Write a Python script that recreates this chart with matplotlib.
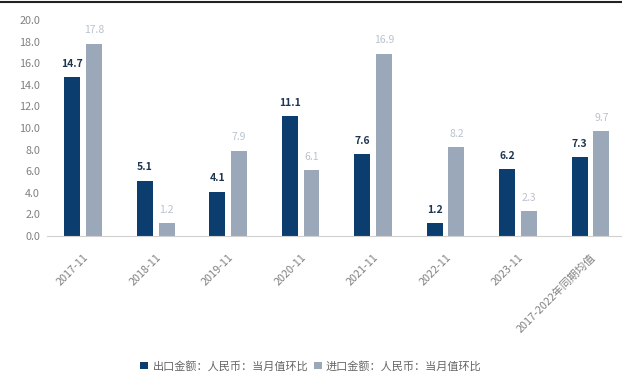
import matplotlib.pyplot as plt
import numpy as np
from matplotlib.lines import Line2D

plt.rcParams['font.family'] = ['Noto Sans CJK SC', 'DejaVu Sans']

categories = ['2017-11', '2018-11', '2019-11', '2020-11', '2021-11',
              '2022-11', '2023-11', '2017-2022年同期均值']
export_mom = [14.7, 5.1, 4.1, 11.1, 7.6, 1.2, 6.2, 7.3]
import_mom = [17.8, 1.2, 7.9, 6.1, 16.9, 8.2, 2.3, 9.7]
series_names = ['出口金额：人民币：当月值环比', '进口金额：人民币：当月值环比']

dark = '#0b3d6f'
light = '#9aa8b9'

fig = plt.figure(figsize=(6.22, 3.72), dpi=100)
ax = fig.add_axes([0.0756, 0.366, 0.932, 0.580])

x = np.arange(len(categories))
w = 0.22
b1 = ax.bar(x - 0.15, export_mom, w, color=dark, label=series_names[0])
b2 = ax.bar(x + 0.15, import_mom, w, color=light, label=series_names[1])

# value labels above each bar
for rect, v in zip(b1, export_mom):
    ax.annotate(f'{v:.1f}', (rect.get_x() + rect.get_width() / 2, v),
                xytext=(0, 6), textcoords='offset points', ha='center', va='bottom',
                fontsize=7.5, color='#1e3552', fontweight='bold')
for rect, v in zip(b2, import_mom):
    ax.annotate(f'{v:.1f}', (rect.get_x() + rect.get_width() / 2, v),
                xytext=(0, 6), textcoords='offset points', ha='center', va='bottom',
                fontsize=7.5, color='#b9c2cd')

ax.set_ylim(0, 20)
ax.set_xlim(-0.5, len(categories) - 0.5)
yt = np.arange(0, 20.1, 2)
ax.set_yticks(yt)
ax.set_yticklabels([f'{t:.1f}' for t in yt])
ax.set_xticks(x)
ax.set_xticklabels(categories, rotation=45, ha='right', rotation_mode='anchor')

for side in ['top', 'right', 'left']:
    ax.spines[side].set_visible(False)
ax.spines['bottom'].set_color('#d0d0d0')
ax.spines['bottom'].set_linewidth(0.8)
ax.tick_params(axis='both', length=0, labelsize=7.8, colors='#808080')
ax.tick_params(axis='y', pad=5)
ax.tick_params(axis='x', pad=12)

fig.legend(handles=[b1, b2], loc='center', bbox_to_anchor=(0.5, 0.016), ncol=2,
           frameon=False, fontsize=8, handlelength=0.7, handleheight=0.7,
           handletextpad=0.4, columnspacing=0.5, labelcolor='#666666')

fig.add_artist(Line2D([0, 1], [0.994, 0.994], color='#222222', linewidth=1.5,
                      transform=fig.transFigure))

fig.savefig('out.png', dpi=100)
